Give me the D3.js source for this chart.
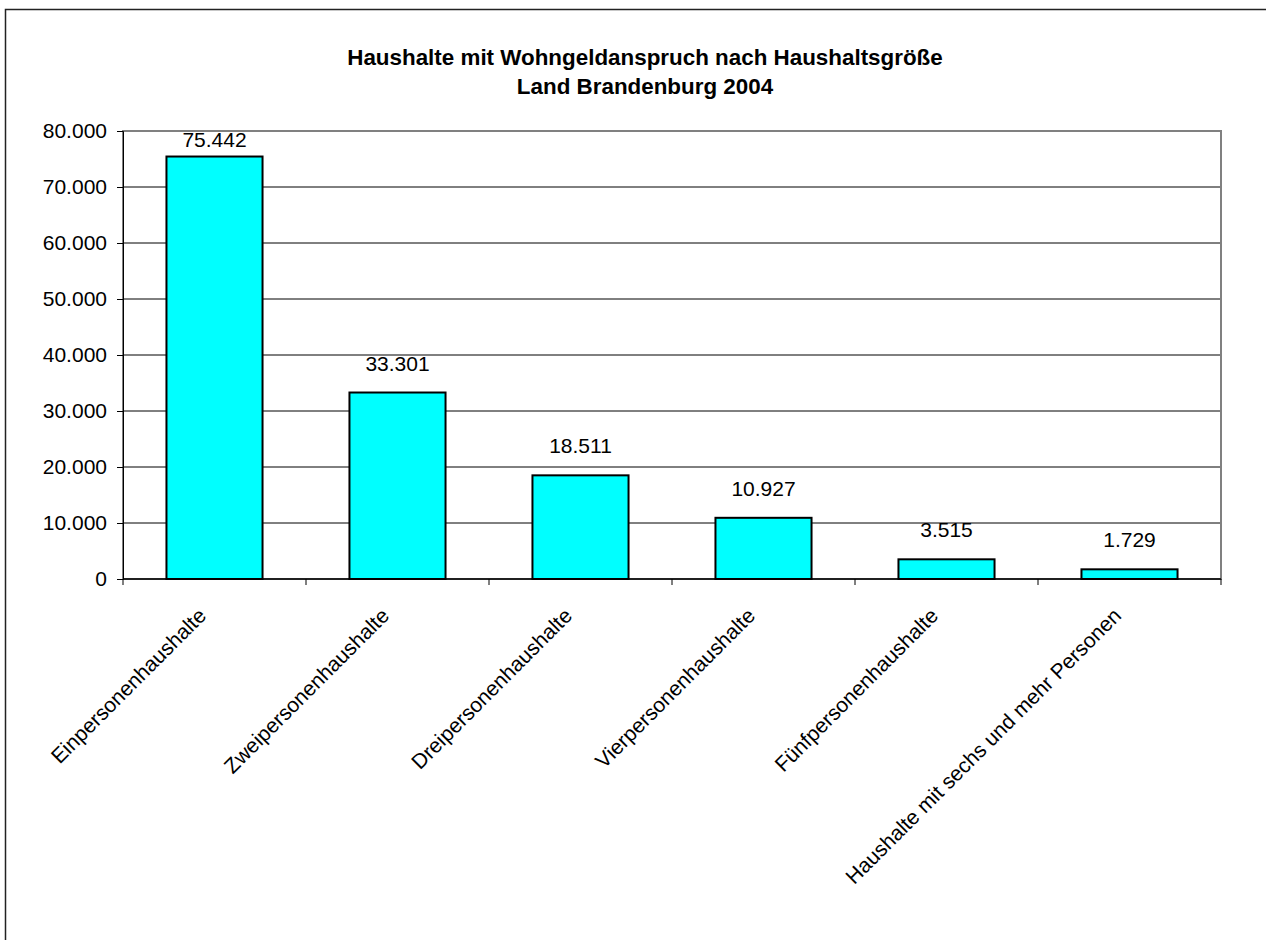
<!DOCTYPE html>
<html><head><meta charset="utf-8">
<script src="https://cdn.jsdelivr.net/npm/d3@7/dist/d3.min.js"></script>
<style>
html,body{margin:0;padding:0;background:#fff;}
svg{display:block;font-family:Arial,"Liberation Sans",sans-serif;}
</style></head>
<body>
<svg id="chart" width="1266" height="940"></svg>
<script>
const categories = ["Einpersonenhaushalte","Zweipersonenhaushalte","Dreipersonenhaushalte","Vierpersonenhaushalte","Fünfpersonenhaushalte","Haushalte mit sechs und mehr Personen"];
const values = [75442, 33301, 18511, 10927, 3515, 1729];
const yTicks = [0,10000,20000,30000,40000,50000,60000,70000,80000];
const titleLines = ["Haushalte mit Wohngeldanspruch nach Haushaltsgröße","Land Brandenburg 2004"];

const svg = d3.select("#chart");
const fmt = v => d3.format(",")(v).replace(/,/g,".");

// outer chart border
svg.append("rect").attr("x",5.5).attr("y",9.5).attr("width",1300).attr("height",1000)
  .attr("fill","none").attr("stroke","#222").attr("stroke-width",1.5);

const L=123, R=1221, T=131, B=579;
const x = d3.scaleBand().domain(categories).range([L,R]).paddingInner(0.475).paddingOuter(0.2375);
const xc = d3.scaleBand().domain(categories).range([L,R]);
const y = d3.scaleLinear().domain([0,80000]).range([B,T]);

// title
svg.append("text").attr("text-anchor","middle")
  .attr("font-weight","bold").attr("font-size",22.4).attr("fill","#000")
  .selectAll("tspan").data(titleLines).join("tspan")
  .attr("x",645).attr("y",(d,i)=>i?94:65).text(d=>d);

// gridlines
svg.append("g").selectAll("line").data(yTicks.filter(t=>t>0 && t<80000)).join("line")
  .attr("x1",L).attr("x2",R).attr("y1",d=>y(d)).attr("y2",d=>y(d))
  .attr("stroke","#000").attr("stroke-width",1);

// plot border (gray)
svg.append("rect").attr("x",L).attr("y",T).attr("width",R-L).attr("height",B-T)
  .attr("fill","none").attr("stroke","#808080").attr("stroke-width",2);

// bars
svg.append("g").selectAll("rect").data(values).join("rect")
  .attr("x",(d,i)=>x(categories[i])).attr("width",x.bandwidth())
  .attr("y",d=>y(d)).attr("height",d=>B-y(d))
  .attr("fill","#00FFFF").attr("stroke","#000").attr("stroke-width",2);

// value labels
svg.append("g").selectAll("text").data(values).join("text")
  .attr("x",(d,i)=>x(categories[i])+x.bandwidth()/2)
  .attr("y",d=>Math.max(y(d)-22, T+16))
  .attr("text-anchor","middle").attr("font-size",21).attr("fill","#000")
  .text(d=>fmt(d));

// y axis
const yAxis = d3.axisLeft(y).tickValues(yTicks).tickSize(6).tickPadding(10).tickFormat(fmt);
const gy = svg.append("g").attr("transform",`translate(${L},0)`).call(yAxis);
gy.select(".domain").attr("stroke","#000").attr("stroke-width",1);
gy.selectAll(".tick line").attr("stroke","#000");
gy.selectAll(".tick text").attr("font-size",21).attr("font-family","Arial,'Liberation Sans',sans-serif").attr("fill","#000");

// x axis line and ticks at category boundaries
const bounds = categories.map(c=>xc(c)).concat([R]);
svg.append("line").attr("x1",L).attr("x2",R).attr("y1",B).attr("y2",B).attr("stroke","#000").attr("stroke-width",1.5);
svg.append("g").selectAll("line").data(bounds).join("line")
  .attr("x1",d=>d).attr("x2",d=>d).attr("y1",B).attr("y2",B+6).attr("stroke","#000");

// x labels
svg.append("g").selectAll("text").data(categories).join("text")
  .attr("transform",d=>`translate(${xc(d)+xc.bandwidth()/2-7},${617}) rotate(-45)`)
  .attr("text-anchor","end").attr("font-size",21).attr("fill","#000")
  .text(d=>d);
</script>
</body></html>
